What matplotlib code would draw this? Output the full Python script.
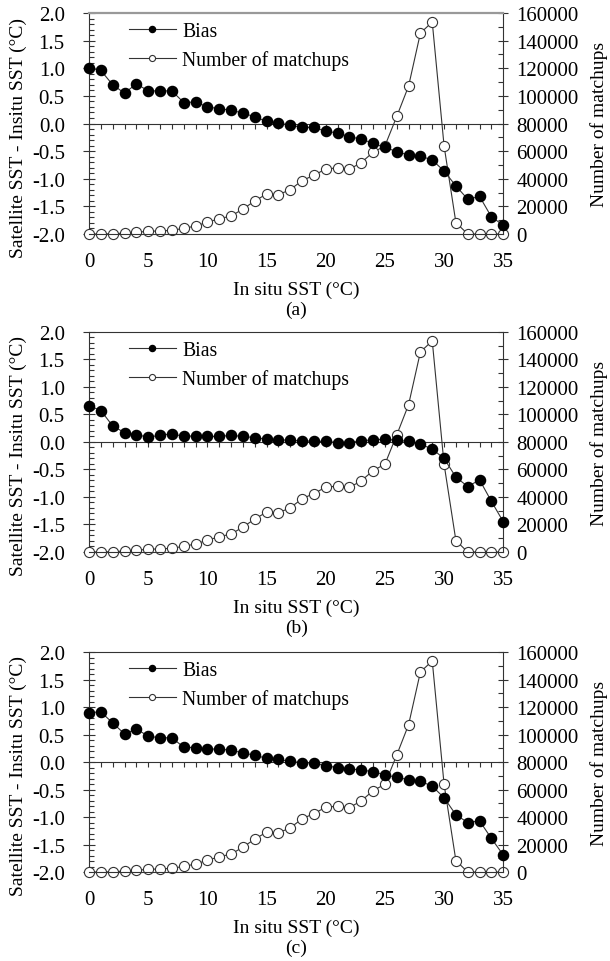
import matplotlib
matplotlib.use("Agg")
import matplotlib.pyplot as plt
from matplotlib.ticker import MultipleLocator
import numpy as np

plt.rcParams["font.family"] = ["Liberation Serif", "DejaVu Serif"]

# In situ SST bins (°C)
sst = np.arange(0, 36)

# Number of matchups per bin (identique pour les trois panneaux)
matchups = [0, 0, 200, 700, 1200, 2000, 2200, 2700, 4100, 5800,
            8500, 11100, 13000, 18100, 23900, 29000, 28500, 32100, 38700, 42500,
            47100, 47900, 46900, 51700, 59200, 63800, 85100, 107100, 145500, 153500,
            63800, 8200, 0, 0, 0, 0]

bias_a = [1.01, 0.96, 0.70, 0.55, 0.72, 0.59, 0.59, 0.59, 0.38, 0.39,
          0.30, 0.27, 0.24, 0.19, 0.12, 0.04, 0.01, -0.03, -0.07, -0.07,
          -0.14, -0.17, -0.24, -0.28, -0.36, -0.43, -0.51, -0.57, -0.59, -0.66,
          -0.86, -1.13, -1.37, -1.32, -1.69, -1.84]

bias_b = [0.66, 0.57, 0.29, 0.17, 0.13, 0.09, 0.12, 0.15, 0.10, 0.11,
          0.10, 0.10, 0.12, 0.10, 0.08, 0.05, 0.04, 0.03, 0.02, 0.01,
          0.01, -0.01, -0.01, 0.02, 0.04, 0.05, 0.03, 0.01, -0.04, -0.13,
          -0.30, -0.64, -0.81, -0.69, -1.08, -1.45]

bias_c = [0.90, 0.91, 0.71, 0.51, 0.60, 0.47, 0.44, 0.44, 0.27, 0.26,
          0.23, 0.24, 0.21, 0.17, 0.12, 0.07, 0.05, 0.01, -0.01, -0.02,
          -0.07, -0.10, -0.13, -0.14, -0.18, -0.23, -0.28, -0.32, -0.35, -0.44,
          -0.65, -0.96, -1.10, -1.07, -1.39, -1.69]

panel_labels = ["(a)", "(b)", "(c)"]
all_bias = [bias_a, bias_b, bias_c]

FS_TICK = 15
FS_LAB = 14
FS_LEG = 14.2
LINE_C = "#333333"

fig = plt.figure(figsize=(6.10, 9.62), dpi=100)

# positions des axes (fraction de la figure), une ligne par panneau
positions = [[0.146, 0.7557, 0.679, 0.2297],
             [0.146, 0.4252, 0.679, 0.2287],
             [0.146, 0.0925, 0.679, 0.2287]]

for i, (pos, bias, lab) in enumerate(zip(positions, all_bias, panel_labels)):
    ax = fig.add_axes(pos)
    ax2 = ax.twinx()

    # --- axe gauche : biais ---
    ax.set_xlim(0, 35)
    ax.set_ylim(-2, 2)
    ax.yaxis.set_minor_locator(MultipleLocator(0.1))
    ax.set_yticks(np.arange(-2, 2.01, 0.5))
    ax.set_yticklabels([f"{v:.1f}" for v in np.arange(-2, 2.01, 0.5)])
    ax.tick_params(axis="y", which="major", direction="inout", length=9,
                   width=0.8, labelsize=FS_TICK, pad=13, color=LINE_C)
    ax.tick_params(axis="y", which="minor", direction="in", length=3.5,
                   width=0.8, color=LINE_C)

    # axe des x croisant à 0, graduations vers le bas
    ax.spines["bottom"].set_position(("data", 0))
    ax.xaxis.set_major_locator(MultipleLocator(5))
    ax.xaxis.set_minor_locator(MultipleLocator(1))
    ax.tick_params(axis="x", which="both", direction="out", length=3.5,
                   width=0.8, labelbottom=False, color=LINE_C)
    for s in ("top", "right"):
        ax.spines[s].set_visible(False)
    for s in ("left", "bottom"):
        ax.spines[s].set_linewidth(0.8)
        ax.spines[s].set_color(LINE_C)

    ax.set_ylabel("Satellite SST - Insitu SST (°C)", fontsize=FS_LAB)
    ax.yaxis.set_label_coords(-0.15, 0.44)

    # --- axe droit : nombre de matchups ---
    ax2.set_ylim(0, 160000)
    ax2.yaxis.set_major_locator(MultipleLocator(20000))
    ax2.yaxis.set_minor_locator(MultipleLocator(10000))
    ax2.tick_params(axis="y", which="major", direction="inout", length=7,
                    width=0.8, labelsize=FS_TICK, pad=6, color=LINE_C)
    ax2.tick_params(axis="y", which="minor", direction="in", length=3.5,
                    width=0.8, color=LINE_C)
    ax2.set_ylabel("Number of matchups", fontsize=FS_LAB, labelpad=8)

    # étiquettes x en bas du cadre
    ax2.xaxis.set_visible(True)
    ax2.tick_params(axis="x", which="both", length=0, labelbottom=True,
                    labelsize=FS_TICK, pad=13)
    ax2.set_xticks(np.arange(0, 36, 5))
    ax2.set_xlabel("In situ SST (°C)", fontsize=FS_LAB, labelpad=7)
    ax2.spines["left"].set_visible(False)
    for s in ("right", "bottom"):
        ax2.spines[s].set_linewidth(0.8)
        ax2.spines[s].set_color(LINE_C)
    ax2.spines["top"].set_linewidth(1.6 if i == 0 else 0.8)
    ax2.spines["top"].set_color("#999999" if i == 0 else LINE_C)

    # --- courbes ---
    h2, = ax2.plot(sst, matchups, color=LINE_C, lw=0.8, marker="o",
                   markersize=7.3, markerfacecolor="white",
                   markeredgecolor=LINE_C, markeredgewidth=0.8,
                   clip_on=False, zorder=2)
    h1, = ax2.plot([], [], color=LINE_C, lw=0.8, marker="o", markersize=7.3,
                   markerfacecolor="black", markeredgecolor="black")
    # biais tracé sur l'axe gauche, converti vers l'axe droit pour l'empilement
    ax2.plot(sst, (np.array(bias) + 2) / 4 * 160000, color=LINE_C, lw=0.8,
             marker="o", markersize=7.3, markerfacecolor="black",
             markeredgecolor="black", clip_on=False, zorder=3)

    ax2.legend([h1, h2], ["Bias", "Number of matchups"], loc="upper left",
               bbox_to_anchor=(0.053, 1.04), frameon=False, fontsize=FS_LEG,
               markerscale=0.6, handlelength=2.4, handletextpad=0.3,
               labelspacing=0.45)

    fig.text(0.146 + 0.679 / 2, pos[1] - 75 / 962, lab, ha="center",
             va="center", fontsize=FS_LAB)

fig.savefig("out.png", dpi=100)
